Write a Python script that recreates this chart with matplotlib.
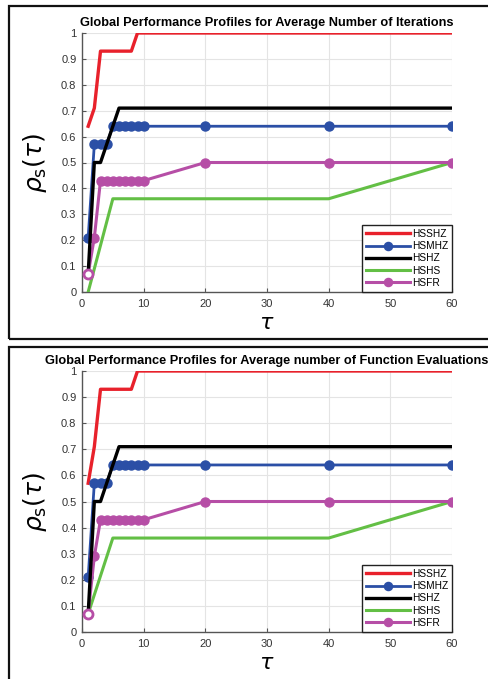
import matplotlib
matplotlib.use("Agg")
import matplotlib.pyplot as plt
from matplotlib.patches import Rectangle

plt.rcParams['font.family'] = ['Liberation Sans', 'DejaVu Sans']
plt.rcParams['mathtext.fontset'] = 'dejavusans'

# ---- data -------------------------------------------------------------
titles = ["Global Performance Profiles for Average Number of Iterations",
          "Global Performance Profiles for Average number of Function Evaluations"]
series_names = ["HSSHZ", "HSMHZ", "HSHZ", "HSHS", "HSFR"]

# panel 1: average number of iterations
it_hsshz_tau = [1, 2, 3, 8, 9, 60]
it_hsshz_rho = [0.64, 0.71, 0.93, 0.93, 1.0, 1.0]
it_hsmhz_tau = [1, 2, 3, 4, 5, 6, 7, 8, 9, 10, 20, 40, 60]
it_hsmhz_rho = [0.21, 0.57, 0.57, 0.57, 0.64, 0.64, 0.64, 0.64, 0.64, 0.64, 0.64, 0.64, 0.64]
it_hshz_tau = [1, 2, 3, 6, 60]
it_hshz_rho = [0.07, 0.50, 0.50, 0.71, 0.71]
it_hshs_tau = [1, 5, 40, 60]
it_hshs_rho = [0.0, 0.36, 0.36, 0.50]
it_hsfr_tau = [1, 2, 3, 4, 5, 6, 7, 8, 9, 10, 20, 40, 60]
it_hsfr_rho = [0.07, 0.21, 0.43, 0.43, 0.43, 0.43, 0.43, 0.43, 0.43, 0.43, 0.50, 0.50, 0.50]

# panel 2: average number of function evaluations
fe_hsshz_tau = [1, 2, 3, 8, 9, 60]
fe_hsshz_rho = [0.57, 0.71, 0.93, 0.93, 1.0, 1.0]
fe_hsmhz_tau = [1, 2, 3, 4, 5, 6, 7, 8, 9, 10, 20, 40, 60]
fe_hsmhz_rho = [0.21, 0.57, 0.57, 0.57, 0.64, 0.64, 0.64, 0.64, 0.64, 0.64, 0.64, 0.64, 0.64]
fe_hshz_tau = [1, 2, 3, 6, 60]
fe_hshz_rho = [0.07, 0.50, 0.50, 0.71, 0.71]
fe_hshs_tau = [1, 5, 40, 60]
fe_hshs_rho = [0.07, 0.36, 0.36, 0.50]
fe_hsfr_tau = [1, 2, 3, 4, 5, 6, 7, 8, 9, 10, 20, 40, 60]
fe_hsfr_rho = [0.07, 0.29, 0.43, 0.43, 0.43, 0.43, 0.43, 0.43, 0.43, 0.43, 0.50, 0.50, 0.50]

x_ticks = [0, 10, 20, 30, 40, 50, 60]
y_ticks = [0, 0.1, 0.2, 0.3, 0.4, 0.5, 0.6, 0.7, 0.8, 0.9, 1]
y_tick_labels = ["0", "0.1", "0.2", "0.3", "0.4", "0.5", "0.6", "0.7", "0.8", "0.9", "1"]

RED, BLUE, BLACK, GREEN, MAGENTA = "#e8212b", "#2b4fa6", "#000000", "#63bf45", "#b64ea6"

W, H = 488, 679
fig = plt.figure(figsize=(W / 100, H / 100), dpi=100)

# outer boxes around each panel
fig.add_artist(Rectangle((9 / W, 1 - 339 / H), 500 / W, 333 / H, transform=fig.transFigure,
                         fill=False, edgecolor="#111111", linewidth=1.6))
fig.add_artist(Rectangle((9 / W, -0.05), 500 / W, 0.05 + 1 - 347 / H, transform=fig.transFigure,
                         fill=False, edgecolor="#111111", linewidth=1.6))


def draw_panel(rect, title, data):
    ax = fig.add_axes(rect)
    (s_t, s_r), (m_t, m_r), (z_t, z_r), (h_t, h_r), (f_t, f_r) = data
    ax.plot(s_t, s_r, color=RED, lw=2.4, label=series_names[0], zorder=3)
    ax.plot(m_t, m_r, color=BLUE, lw=2.0, marker="o", ms=6.5, label=series_names[1], zorder=4)
    ax.plot(z_t, z_r, color=BLACK, lw=2.4, label=series_names[2], zorder=5)
    ax.plot(h_t, h_r, color=GREEN, lw=2.2, label=series_names[3], zorder=3)
    ax.plot(f_t, f_r, color=MAGENTA, lw=2.2, marker="o", ms=6.5, label=series_names[4], zorder=4)
    # first HSFR point drawn open
    ax.plot(f_t[:1], f_r[:1], ls="none", marker="o", ms=6.5, mfc="white", mec=MAGENTA,
            mew=2.0, zorder=6)

    ax.set_xlim(0, 60)
    ax.set_ylim(0, 1)
    ax.set_xticks(x_ticks)
    ax.set_yticks(y_ticks)
    ax.set_yticklabels(y_tick_labels)
    ax.grid(True, color="#e4e4e4", lw=0.8)
    ax.set_axisbelow(True)
    for side in ("top", "right"):
        ax.spines[side].set_visible(False)
    for side in ("left", "bottom"):
        ax.spines[side].set_color("#555555")
        ax.spines[side].set_linewidth(1.0)
    ax.tick_params(direction="in", length=3, width=0.8, colors="#555555",
                   labelsize=8, labelcolor="#333333")
    ax.tick_params(axis="x", pad=5)
    ax.tick_params(axis="y", pad=4)
    ax.set_title(title, fontsize=9.2, fontweight="bold", pad=5)
    ax.set_xlabel(r"$\tau$", fontsize=16, labelpad=3)
    ax.set_ylabel(r"$\rho_{\mathrm{s}}(\tau)$", fontsize=18, labelpad=9)

    leg = ax.legend(loc="lower right", fontsize=7.3, handlelength=4.4, handletextpad=0.15,
                    labelspacing=0.22, borderpad=0.4, borderaxespad=0.0,
                    frameon=True, fancybox=False, framealpha=1.0, markerscale=0.9)
    leg.get_frame().set_edgecolor("#222222")
    leg.get_frame().set_linewidth(1.0)
    return ax


left = 82 / W
width = (452 - 82) / W
draw_panel([left, 1 - 292 / H, width, (292 - 33) / H], titles[0],
           [(it_hsshz_tau, it_hsshz_rho), (it_hsmhz_tau, it_hsmhz_rho),
            (it_hshz_tau, it_hshz_rho), (it_hshs_tau, it_hshs_rho),
            (it_hsfr_tau, it_hsfr_rho)])
draw_panel([left, 1 - 632 / H, width, (632 - 371) / H], titles[1],
           [(fe_hsshz_tau, fe_hsshz_rho), (fe_hsmhz_tau, fe_hsmhz_rho),
            (fe_hshz_tau, fe_hshz_rho), (fe_hshs_tau, fe_hshs_rho),
            (fe_hsfr_tau, fe_hsfr_rho)])

fig.savefig("out.png", dpi=100)
